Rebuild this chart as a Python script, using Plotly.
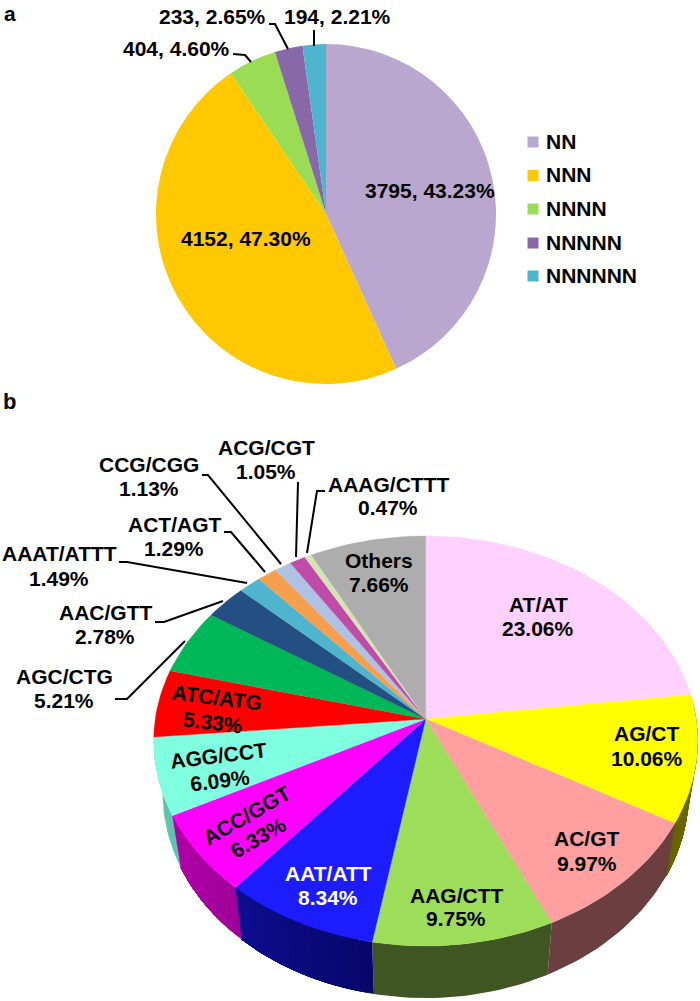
import math
import plotly.graph_objects as go

# ---- data ----
a_names = ["NN", "NNN", "NNNN", "NNNNN", "NNNNNN"]
a_counts = [3795, 4152, 404, 233, 194]
a_pcts = [43.23, 47.30, 4.60, 2.65, 2.21]
a_colors = ["#B9A7CF", "#FFC800", "#9BDC55", "#8868A8", "#4FB5CE"]

b_names = ["AT/AT", "AG/CT", "AC/GT", "AAG/CTT", "AAT/ATT", "ACC/GGT", "AGG/CCT", "ATC/ATG",
           "AGC/CTG", "AAC/GTT", "AAAT/ATTT", "ACT/AGT", "CCG/CGG", "ACG/CGT", "AAAG/CTTT", "Others"]
b_pcts = [23.06, 10.06, 9.97, 9.75, 8.34, 6.33, 6.09, 5.33, 5.21, 2.78, 1.49, 1.29, 1.13, 1.05, 0.47, 7.66]
b_colors = ["#FFD1FF", "#FFFF00", "#FF9F9F", "#9EDD5A", "#1C1CFF", "#FF00FF", "#7FFFE0", "#FF0000",
            "#00B857", "#234F82", "#4FB5CE", "#F79F4C", "#B0C2E3", "#C04BA8", "#D4E4B4", "#ADADAD"]
# side wall shading (start, end), None where the wall is hidden
b_walls = [None, ("#7A7600", "#666200"), ("#6B3F3F", "#6B3F3F"), ("#3F5622", "#3F5622"),
           ("#07076A", "#0D0D90"), ("#A0009A", "#B000A8"), ("#5FC4AE", "#5FC4AE"),
           None, None, None, None, None, None, None, None, None]

# ---- layout constants (pixels of the 700x1001 page) ----
W, H = 700, 1001
FONT = "Liberation Sans"
A_CX, A_CY, A_R = 326, 214, 170
CX, CY, RX, RY, K = 425.7, 719.0, 270.5, 202.7, 0.107
WALL_SCALE, WALL_DROP = 0.967, 52


def rim(frac):
    t = 2 * math.pi * frac
    u, v = math.sin(t), math.cos(t)
    d = 1 + K * v
    return CX + RX * u / d, CY - RY * v / d


def low(p):
    return CX + WALL_SCALE * (p[0] - CX), p[1] + WALL_DROP


def mix(c1, c2, t):
    a = [int(c1[i:i + 2], 16) for i in (1, 3, 5)]
    b = [int(c2[i:i + 2], 16) for i in (1, 3, 5)]
    return "#%02X%02X%02X" % tuple(round(x + (y - x) * t) for x, y in zip(a, b))


fig = go.Figure()

# panel a
fig.add_trace(go.Pie(
    labels=a_names, values=a_counts, sort=False, direction="clockwise", rotation=0,
    marker=dict(colors=a_colors, line=dict(width=0)), textinfo="none", showlegend=False,
    domain=dict(x=[(A_CX - A_R) / W, (A_CX + A_R) / W],
                y=[1 - (A_CY + A_R) / H, 1 - (A_CY - A_R) / H]),
))

# panel a legend
LEG_Y = [142, 175.5, 209, 243, 276]
fig.add_trace(go.Scatter(
    x=[533] * len(a_names), y=LEG_Y, mode="markers", showlegend=False, hoverinfo="skip",
    marker=dict(symbol="square", size=11, color=a_colors, line=dict(width=0)),
))

# panel b: walls then top face, all derived from the percentages
total = sum(b_pcts)
cum = [0]
for p in b_pcts:
    cum.append(cum[-1] + p / total)

for i, w in enumerate(b_walls):
    if w is None:
        continue
    strips = 24 if w[0] != w[1] else 1
    # each strip runs to the wall's end, so the next one paints over it without seams
    for s in range(strips):
        f0 = cum[i] + (cum[i + 1] - cum[i]) * s / strips
        f1 = cum[i + 1]
        fr = [f0 + (f1 - f0) * j / 24 for j in range(25)]
        top = [rim(f) for f in fr]
        bot = [low(p) for p in reversed(top)]
        pts = top + bot + top[:1]
        c = mix(w[0], w[1], (s + 0.5) / strips)
        fig.add_trace(go.Scatter(
            x=[p[0] for p in pts], y=[p[1] for p in pts], mode="lines", fill="toself",
            fillcolor=c, line=dict(color=c, width=0), showlegend=False, hoverinfo="skip",
        ))

for i, name in enumerate(b_names):
    n = max(3, int((cum[i + 1] - cum[i]) * 200))
    pts = [(CX, CY)] + [rim(cum[i] + (cum[i + 1] - cum[i]) * j / n) for j in range(n + 1)] + [(CX, CY)]
    fig.add_trace(go.Scatter(
        x=[p[0] for p in pts], y=[p[1] for p in pts], mode="lines", fill="toself",
        fillcolor=b_colors[i], line=dict(color=b_colors[i], width=0.3), name=name,
        showlegend=False, hoverinfo="name",
    ))

# ---- text ----
ann = []


def txt(x, y, s, size=21, color="black", angle=0, anchor="center"):
    ann.append(dict(x=x, y=y, xref="x", yref="y", text=f"<b>{s}</b>", showarrow=False,
                    xanchor=anchor, yanchor="middle", textangle=angle,
                    font=dict(family=FONT, size=size, color=color)))


txt(10, 13, "a", size=21)
txt(9, 401, "b", size=22)

a_pos = [(430, 190), (246, 238), (176, 48), (212, 16), (337, 16)]
for (x, y), c, p in zip(a_pos, a_counts, a_pcts):
    txt(x, y, f"{c}, {p:.2f}%")
for y, n in zip(LEG_Y, a_names):
    txt(543.5, y - 1, n, anchor="left")

# name centre, percent centre, angle
b_pos = [
    ((538, 604), (538, 628), 0, "black"),
    ((647, 733), (647, 758), 0, "black"),
    ((587, 838), (587, 863), 0, "black"),
    ((456, 895), (456, 918), 0, "black"),
    ((328, 873), (328, 897), 0, "white"),
    ((246, 815), (258, 837), -30, "black"),
    ((218, 755), (220, 780), -7, "black"),
    ((217, 697), (213, 722), 7, "black"),
    ((64, 676), (64, 700), 0, "black"),
    ((105, 612), (105, 636), 0, "black"),
    ((59, 553), (59, 578), 0, "black"),
    ((174, 524), (174, 548), 0, "black"),
    ((149, 464), (149, 488), 0, "black"),
    ((266, 447), (266, 471), 0, "black"),
    ((388, 484), (388, 507), 0, "black"),
    ((379, 560), (379, 584), 0, "black"),
]
for (n1, n2, ang, col), name, p in zip(b_pos, b_names, b_pcts):
    txt(n1[0], n1[1], name, color=col, angle=ang)
    txt(n2[0], n2[1], f"{p:.2f}%", color=col, angle=ang)

# ---- leader lines ----
leaders = [
    [(233, 54), (245, 55), (251, 62)],
    [(269, 24), (275, 24), (288, 49)],
    [(314, 30), (314, 46)],
    [(202, 475), (208, 475), (281, 564)],
    [(298, 482), (296, 557)],
    [(325, 491), (317, 491), (307, 553)],
    [(224, 532), (231, 532), (265, 572)],
    [(119, 562), (127, 562), (247, 583)],
    [(155, 622), (164, 622), (223, 601)],
    [(115, 699), (127, 699), (185, 641)],
]
shapes = []
for pts in leaders:
    path = "M" + " L".join(f"{x},{y}" for x, y in pts)
    shapes.append(dict(type="path", path=path, xref="x", yref="y",
                       line=dict(color="black", width=2), layer="above"))

fig.update_layout(
    width=W, height=H, margin=dict(l=0, r=0, t=0, b=0), autosize=False,
    paper_bgcolor="white", plot_bgcolor="white", showlegend=False,
    xaxis=dict(range=[0, W], visible=False, fixedrange=True),
    yaxis=dict(range=[H, 0], visible=False, fixedrange=True),
    annotations=ann, shapes=shapes,
)

fig.write_html("out.html", config=dict(displayModeBar=False),
               post_script="document.body.style.margin='0';document.documentElement.style.overflow='hidden';")
